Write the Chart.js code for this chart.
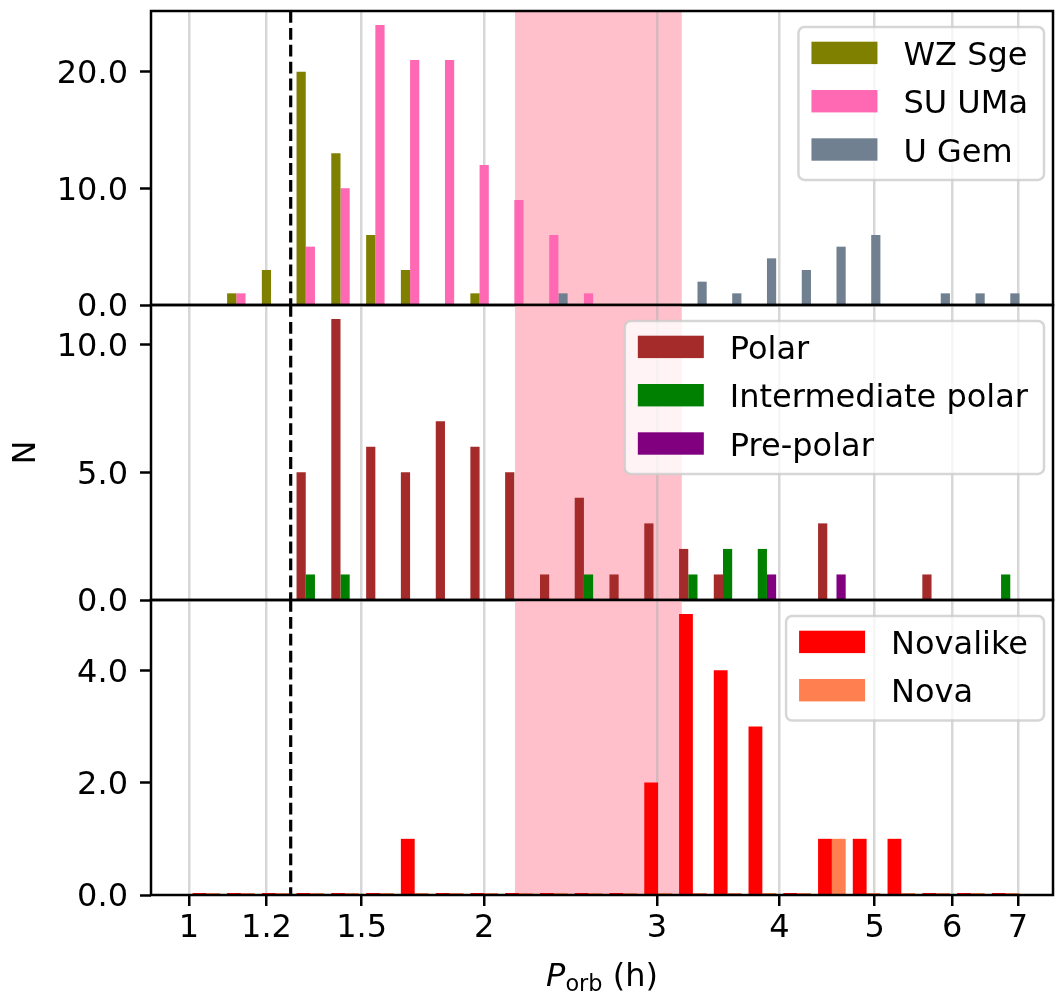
<!DOCTYPE html>
<html>
<head>
<meta charset="utf-8">
<script src="https://cdn.jsdelivr.net/npm/chart.js@4.4.0/dist/chart.umd.min.js"></script>
<style>
    html, body { margin: 0; padding: 0; background: #fff; }
    #wrap { position: relative; width: 1055px; height: 994px; }
    #wrap canvas { position: absolute; left: 0; top: 0; }
</style>
</head>
<body>
<div id="wrap">
    <canvas id="dwarfChart" width="1055" height="994"></canvas>
    <canvas id="magChart" width="1055" height="994"></canvas>
    <canvas id="nlChart" width="1055" height="994"></canvas>
</div>
<script>
/* ---------- DATA ---------- */

// centres of the log-spaced period bins (h)
const binCenters = [1.042, 1.130, 1.226, 1.330, 1.443, 1.566, 1.699, 1.844, 2.000, 2.170, 2.355, 2.555,
                    2.772, 3.008, 3.264, 3.541, 3.842, 4.169, 4.523, 4.907, 5.324, 5.777, 6.268, 6.801];

const wzSge    = [0, 1, 3, 20, 13, 6, 3, 0, 1, 0, 0, 0, 0, 0, 0, 0, 0, 0, 0, 0, 0, 0, 0, 0];
const suUma    = [0, 1, 0, 5, 10, 24, 21, 21, 12, 9, 6, 1, 0, 0, 0, 0, 0, 0, 0, 0, 0, 0, 0, 0];
const uGem     = [0, 0, 0, 0, 0, 0, 0, 0, 0, 0, 1, 0, 0, 0, 2, 1, 4, 3, 5, 6, 0, 1, 1, 1];

const polar    = [0, 0, 0, 5, 11, 6, 5, 7, 6, 5, 1, 4, 1, 3, 2, 1, 0, 0, 3, 0, 0, 1, 0, 0];
const interPol = [0, 0, 0, 1, 1, 0, 0, 0, 0, 0, 0, 1, 0, 0, 1, 2, 2, 0, 0, 0, 0, 0, 0, 1];
const prePolar = [0, 0, 0, 0, 0, 0, 0, 0, 0, 0, 0, 0, 0, 0, 0, 0, 1, 0, 1, 0, 0, 0, 0, 0];

const novalike = [0, 0, 0, 0, 0, 0, 1, 0, 0, 0, 0, 0, 0, 2, 5, 4, 3, 0, 1, 1, 1, 0, 0, 0];
const nova     = [0, 0, 0, 0, 0, 0, 0, 0, 0, 0, 0, 0, 0, 0, 0, 0, 0, 0, 1, 0, 0, 0, 0, 0];

const xTicks = [1, 1.2, 1.5, 2, 3, 4, 5, 6, 7];
const topTicks = [0, 10, 20];
const midTicks = [0, 5, 10];
const botTicks = [0, 2, 4];

const periodGap = [2.15, 3.18];   // shaded period gap
const periodMin = 1.27;           // dashed period minimum

/* ---------- STYLE ---------- */

const FONT = "'DejaVu Sans', sans-serif";
const GRID = "rgba(176,176,176,0.5)";
const X_MIN = 0.915, X_MAX = 7.6;

/* ---------- HELPERS ---------- */

function series(vals) {
    return binCenters.map((c, i) => ({ x: c, y: vals[i] }));
}

function bars(label, vals, color, extra) {
    return Object.assign({
        label,
        data: series(vals),
        backgroundColor: color,
        borderWidth: 0,
        barPercentage: 1,
        categoryPercentage: 0.8
    }, extra || {});
}

function roundBox(ctx, x, y, w, h, r) {
    ctx.beginPath();
    ctx.moveTo(x + r, y);
    ctx.arcTo(x + w, y, x + w, y + h, r);
    ctx.arcTo(x + w, y + h, x, y + h, r);
    ctx.arcTo(x, y + h, x, y, r);
    ctx.arcTo(x, y, x + w, y, r);
    ctx.closePath();
}

function noPadding(s) {
    s.paddingTop = 0;
    s.paddingBottom = 0;
    s.paddingLeft = 0;
    s.paddingRight = 0;
}

const panelDecor = {
    id: "panelDecor",
    beforeDraw(chart) {
        const { ctx, chartArea: a, scales: { x } } = chart;
        const x0 = x.getPixelForValue(periodGap[0]);
        const x1 = x.getPixelForValue(periodGap[1]);
        ctx.save();
        ctx.fillStyle = "#ffc0cb";
        ctx.fillRect(x0, a.top, x1 - x0, a.bottom - a.top);
        ctx.restore();
    },
    afterDatasetsDraw(chart) {
        const { ctx, chartArea: a, scales: { x } } = chart;
        const px = x.getPixelForValue(periodMin);
        ctx.save();
        ctx.strokeStyle = "#000";
        ctx.lineWidth = 3.2;
        ctx.setLineDash([11.8, 5.1]);
        ctx.beginPath();
        ctx.moveTo(px, a.top);
        ctx.lineTo(px, a.bottom);
        ctx.stroke();
        ctx.restore();
    },
    afterDraw(chart) {
        const { ctx, chartArea: a } = chart;
        ctx.save();

        // legend box, upper right
        const sets = chart.data.datasets;
        ctx.font = "32px " + FONT;
        const textW = Math.max(...sets.map(d => ctx.measureText(d.label).width));
        const rowH = 48.3;
        const w = 13 + 66 + 26 + textW + 16;
        const h = rowH * sets.length + 8;
        const left = a.right - 9 - w;
        const top = a.top + 16;
        roundBox(ctx, left, top, w, h, 6);
        ctx.fillStyle = "rgba(255,255,255,0.8)";
        ctx.fill();
        ctx.strokeStyle = "rgba(204,204,204,0.8)";
        ctx.lineWidth = 2.5;
        ctx.stroke();
        sets.forEach((d, i) => {
            const py = top + 14.7 + i * rowH;
            ctx.fillStyle = d.backgroundColor;
            ctx.fillRect(left + 13, py, 66, 22.4);
            ctx.fillStyle = "#000";
            ctx.textBaseline = "alphabetic";
            ctx.textAlign = "left";
            ctx.fillText(d.label, left + 13 + 66 + 26, py + 23.3);
        });

        // frame
        ctx.strokeStyle = "#000";
        ctx.lineWidth = 2.5;
        ctx.strokeRect(a.left, a.top, a.right - a.left, a.bottom - a.top);

        // x label on the bottom panel only
        if (chart.options.showXLabel) {
            const cx = (a.left + a.right) / 2;
            const base = 986;
            ctx.font = "italic 32px " + FONT;
            const wP = ctx.measureText("P").width;
            ctx.font = "22.4px " + FONT;
            const wSub = ctx.measureText("orb").width;
            ctx.font = "32px " + FONT;
            const wRest = ctx.measureText(" (h)").width;
            let sx = cx - (wP + wSub + wRest) / 2;
            ctx.fillStyle = "#000";
            ctx.textBaseline = "alphabetic";
            ctx.textAlign = "left";
            ctx.font = "italic 32px " + FONT;
            ctx.fillText("P", sx, base);
            sx += wP;
            ctx.font = "22.4px " + FONT;
            ctx.fillText("orb", sx, base + 5);
            sx += wSub;
            ctx.font = "32px " + FONT;
            ctx.fillText(" (h)", sx, base);
        }
        ctx.restore();
    }
};

/* ---------- PANELS ---------- */

function makePanel(id, datasets, yMax, yTicks, padTop, padBottom, bottomAxis, yTitle) {
    const xAxis = {
        type: "logarithmic",
        min: X_MIN,
        max: X_MAX,
        offset: false,
        afterBuildTicks: s => { s.ticks = xTicks.map(v => ({ value: v })); },
        afterFit: s => { s.height = bottomAxis ? 60 : 0; noPadding(s); },
        ticks: {
            display: bottomAxis,
            autoSkip: false,
            maxRotation: 0,
            padding: 3,
            color: "#000",
            font: { family: FONT, size: 32 },
            callback: v => String(v)
        },
        grid: {
            offset: false,
            color: GRID,
            lineWidth: 2.5,
            drawTicks: bottomAxis,
            tickLength: 11,
            tickColor: "#000",
            tickWidth: 2.5
        },
        border: { display: false }
    };

    const yAxis = {
        min: 0,
        max: yMax,
        afterBuildTicks: s => { s.ticks = yTicks.map(v => ({ value: v })); },
        afterFit: s => { s.width = 151; noPadding(s); },
        ticks: {
            padding: 12,
            labelOffset: 3,
            color: "#000",
            font: { family: FONT, size: 32 },
            callback: v => v.toFixed(1)
        },
        grid: {
            drawOnChartArea: false,
            drawTicks: true,
            tickLength: 11,
            tickColor: "#000",
            tickWidth: 2.5
        },
        border: { display: false },
        title: {
            display: !!yTitle,
            text: yTitle || "",
            color: "#000",
            font: { family: FONT, size: 32 },
            padding: { top: 7.7, bottom: 0 }
        }
    };

    return new Chart(document.getElementById(id), {
        type: "bar",
        data: { datasets },
        options: {
            responsive: false,
            animation: false,
            devicePixelRatio: 1,
            showXLabel: bottomAxis,
            layout: { padding: { top: padTop, bottom: padBottom, left: 0, right: 2 } },
            scales: { x: xAxis, y: yAxis },
            plugins: { legend: { display: false }, tooltip: { enabled: false } }
        },
        plugins: [panelDecor]
    });
}

/* ---------- INIT ---------- */

makePanel("dwarfChart", [
    bars("WZ Sge", wzSge, "#808000"),
    bars("SU UMa", suUma, "#ff69b4"),
    bars("U Gem", uGem, "#708090")
], 25.2, topTicks, 11, 994 - 305, false);

makePanel("magChart", [
    bars("Polar", polar, "#a52a2a"),
    bars("Intermediate polar", interPol, "#008000"),
    bars("Pre-polar", prePolar, "#800080")
], 11.55, midTicks, 305, 994 - 600, false, "N");

makePanel("nlChart", [
    bars("Novalike", novalike, "#ff0000", { minBarLength: 2 }),
    bars("Nova", nova, "#ff7f50", { minBarLength: 2 })
], 5.25, botTicks, 600, 994 - 895 - 60, true);
</script>
</body>
</html>
